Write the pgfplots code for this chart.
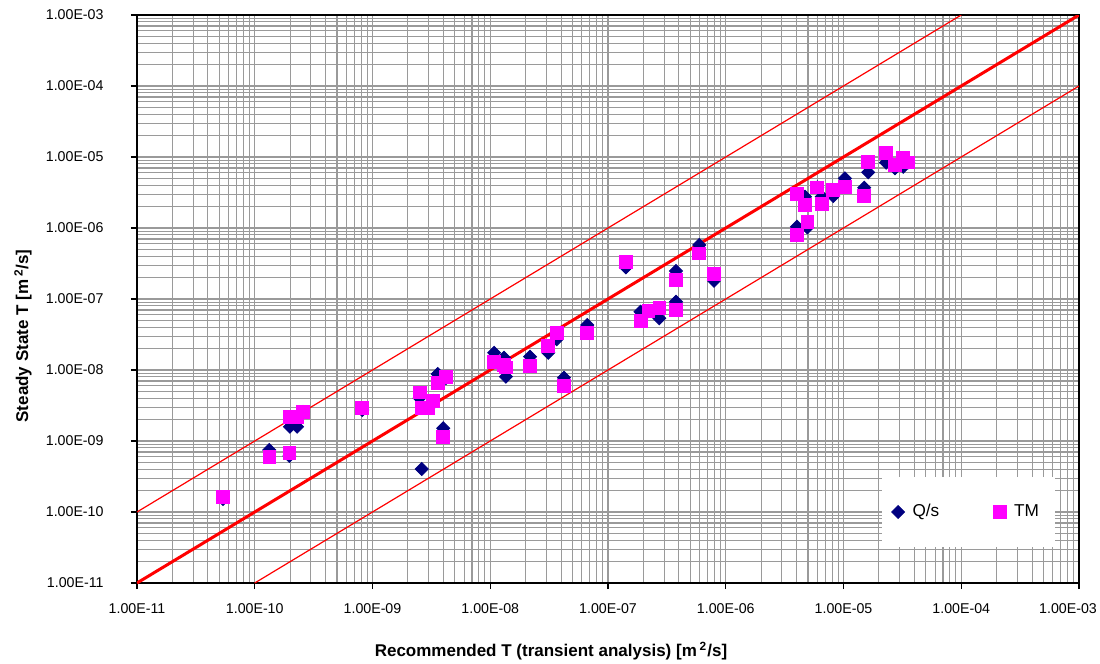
\documentclass[border=0pt]{standalone}
\usepackage{pgfplots}
\pgfplotsset{compat=1.18}
\usepackage{fontspec}
\setmainfont{Liberation Sans}
\definecolor{qnavy}{HTML}{000080}
\definecolor{tmmag}{HTML}{FF00FF}
\definecolor{gridg}{HTML}{9A9A9A}
\begin{document}
\begin{tikzpicture}
\useasboundingbox (-68.5pt,-40.5pt) rectangle (481.5pt,291.5pt);
\begin{axis}[
  scale only axis, width=471pt, height=284pt,
  xmode=log, ymode=log,
  xmin=1e-11, xmax=1e-3, ymin=1e-11, ymax=1e-3,
  xtick={1e-11,1e-10,1e-9,1e-8,1e-7,1e-6,1e-5,1e-4,1e-3},
  ytick={1e-11,1e-10,1e-9,1e-8,1e-7,1e-6,1e-5,1e-4,1e-3},
  xticklabels={1.00E-11,1.00E-10,1.00E-09,1.00E-08,1.00E-07,1.00E-06,1.00E-05,1.00E-04,\hspace*{-11pt}1.00E-03},
  yticklabels={1.00E-11,1.00E-10,1.00E-09,1.00E-08,1.00E-07,1.00E-06,1.00E-05,1.00E-04,1.00E-03},
  minor xtick={2e-11,3e-11,4e-11,5e-11,6e-11,7e-11,8e-11,9e-11,
    2e-10,3e-10,4e-10,5e-10,6e-10,7e-10,8e-10,9e-10,
    2e-9,3e-9,4e-9,5e-9,6e-9,7e-9,8e-9,9e-9,
    2e-8,3e-8,4e-8,5e-8,6e-8,7e-8,8e-8,9e-8,
    2e-7,3e-7,4e-7,5e-7,6e-7,7e-7,8e-7,9e-7,
    2e-6,3e-6,4e-6,5e-6,6e-6,7e-6,8e-6,9e-6,
    2e-5,3e-5,4e-5,5e-5,6e-5,7e-5,8e-5,9e-5,
    2e-4,3e-4,4e-4,5e-4,6e-4,7e-4,8e-4,9e-4},
  minor ytick={2e-11,3e-11,4e-11,5e-11,6e-11,7e-11,8e-11,9e-11,
    2e-10,3e-10,4e-10,5e-10,6e-10,7e-10,8e-10,9e-10,
    2e-9,3e-9,4e-9,5e-9,6e-9,7e-9,8e-9,9e-9,
    2e-8,3e-8,4e-8,5e-8,6e-8,7e-8,8e-8,9e-8,
    2e-7,3e-7,4e-7,5e-7,6e-7,7e-7,8e-7,9e-7,
    2e-6,3e-6,4e-6,5e-6,6e-6,7e-6,8e-6,9e-6,
    2e-5,3e-5,4e-5,5e-5,6e-5,7e-5,8e-5,9e-5,
    2e-4,3e-4,4e-4,5e-4,6e-4,7e-4,8e-4,9e-4},
  grid=both,
  major grid style={gridg, line width=0.55pt},
  minor grid style={gridg, line width=0.55pt},
  tick align=outside, major tick length=3pt, minor tick length=0pt,
  xtick pos=left, ytick pos=left,
  tick style={black, line width=0.6pt},
  axis line style={black, line width=0.9pt},
  xticklabel style={font=\fontsize{7.1}{8}\selectfont, yshift=-3.6pt},
  yticklabel style={font=\fontsize{7.1}{8}\selectfont, xshift=-10.2pt},
  xlabel={Recommended T (transient analysis) [m\,\textsuperscript{2}/s]},
  ylabel={Steady State T [m\,\textsuperscript{2}/s]},
  every axis x label/.style={at={(axis description cs:0.4395,0)}, anchor=center, yshift=-34pt, font=\bfseries\fontsize{8.5}{10}\selectfont},
  every axis y label/.style={at={(axis description cs:0,0.435)}, xshift=-57pt, rotate=90, anchor=center, font=\bfseries\fontsize{8.5}{10}\selectfont},
  legend columns=2,
  legend image code/.code={\path (0pt,-3pt) (7pt,3pt); \draw[#1] plot coordinates {(3.5pt,0pt)};},
  legend style={at={(0.8825,0.125)}, anchor=center, draw=none, fill=white,
    inner xsep=4.5pt, inner ysep=12pt,
    font=\fontsize{8.6}{10}\selectfont,
    nodes={inner xsep=3.5pt, inner ysep=1.5pt},
    /tikz/every even column/.append style={column sep=23pt}},
]
\addplot[red, line width=1.5pt, forget plot] coordinates {(1e-11,1e-11) (1e-3,1e-3)};
\addplot[red, line width=0.6pt, forget plot] coordinates {(1e-11,1e-10) (1e-4,1e-3)};
\addplot[red, line width=0.6pt, forget plot] coordinates {(1e-10,1e-11) (1e-3,1e-4)};
\addplot[only marks, mark=square*, mark size=2.3pt, mark options={rotate=45, fill=qnavy, draw=qnavy}] coordinates {
(5.37e-11,1.52e-10) (1.33e-10,7.47e-10) (1.97e-10,6.15e-10) (1.99e-10,1.59e-9)
(2.29e-10,1.59e-9) (2.57e-10,2.56e-9) (8.19e-10,2.73e-9) (2.51e-9,4.03e-9)
(2.62e-9,4.03e-10) (2.98e-9,2.92e-9) (3.28e-9,3.66e-9) (3.58e-9,8.79e-9)
(4.21e-9,7.71e-9) (3.99e-9,1.51e-9) (1.08e-8,1.75e-8) (1.31e-8,1.49e-8)
(1.36e-8,8.05e-9) (2.18e-8,1.54e-8) (3.11e-8,1.75e-8) (3.67e-8,2.71e-8)
(4.23e-8,7.8e-9) (6.67e-8,4.30e-8) (1.42e-7,2.79e-7) (1.89e-7,6.62e-8)
(2.20e-7,6.78e-8) (2.73e-7,5.35e-8) (3.78e-7,2.48e-7) (3.78e-7,9.16e-8)
(5.96e-7,5.76e-7) (7.95e-7,1.81e-7) (4.03e-6,1.04e-6) (4.03e-6,3.01e-6)
(4.71e-6,2.76e-6) (4.93e-6,1.02e-6) (5.99e-6,3.74e-6) (6.53e-6,2.76e-6)
(8.19e-6,2.82e-6) (1.03e-5,5.01e-6) (1.50e-5,3.70e-6) (1.62e-5,6.09e-6)
(2.30e-5,8.31e-6) (2.74e-5,6.93e-6) (3.22e-5,7.30e-6) (3.55e-5,8.42e-6)
};
\addlegendentry{Q/s}
\addplot[only marks, mark=square*, mark size=3.2pt, mark options={fill=tmmag, draw=tmmag}] coordinates {
(5.37e-11,1.63e-10) (1.33e-10,6.01e-10) (1.97e-10,6.84e-10) (1.99e-10,2.16e-9)
(2.29e-10,2.20e-9) (2.57e-10,2.54e-9) (8.19e-10,2.89e-9) (2.51e-9,4.85e-9)
(2.62e-9,2.89e-9) (2.98e-9,2.89e-9) (3.28e-9,3.66e-9) (3.58e-9,6.62e-9)
(4.21e-9,8.05e-9) (3.99e-9,1.15e-9) (1.08e-8,1.31e-8) (1.31e-8,1.18e-8)
(1.36e-8,1.09e-8) (2.18e-8,1.14e-8) (3.11e-8,2.18e-8) (3.67e-8,3.29e-8)
(4.23e-8,5.95e-9) (6.67e-8,3.29e-8) (1.42e-7,3.35e-7) (1.89e-7,4.94e-8)
(2.20e-7,6.78e-8) (2.73e-7,7.40e-8) (3.78e-7,1.85e-7) (3.78e-7,7.0e-8)
(5.96e-7,4.40e-7) (7.95e-7,2.23e-7) (4.03e-6,7.97e-7) (4.03e-6,3.01e-6)
(4.71e-6,2.11e-6) (4.93e-6,1.23e-6) (5.99e-6,3.74e-6) (6.53e-6,2.18e-6)
(8.19e-6,3.43e-6) (1.03e-5,3.82e-6) (1.50e-5,2.82e-6) (1.62e-5,8.59e-6)
(2.30e-5,1.15e-5) (2.74e-5,7.71e-6) (3.22e-5,9.90e-6) (3.55e-5,8.42e-6)
};
\addlegendentry{TM}
\end{axis}
\end{tikzpicture}
\end{document}
